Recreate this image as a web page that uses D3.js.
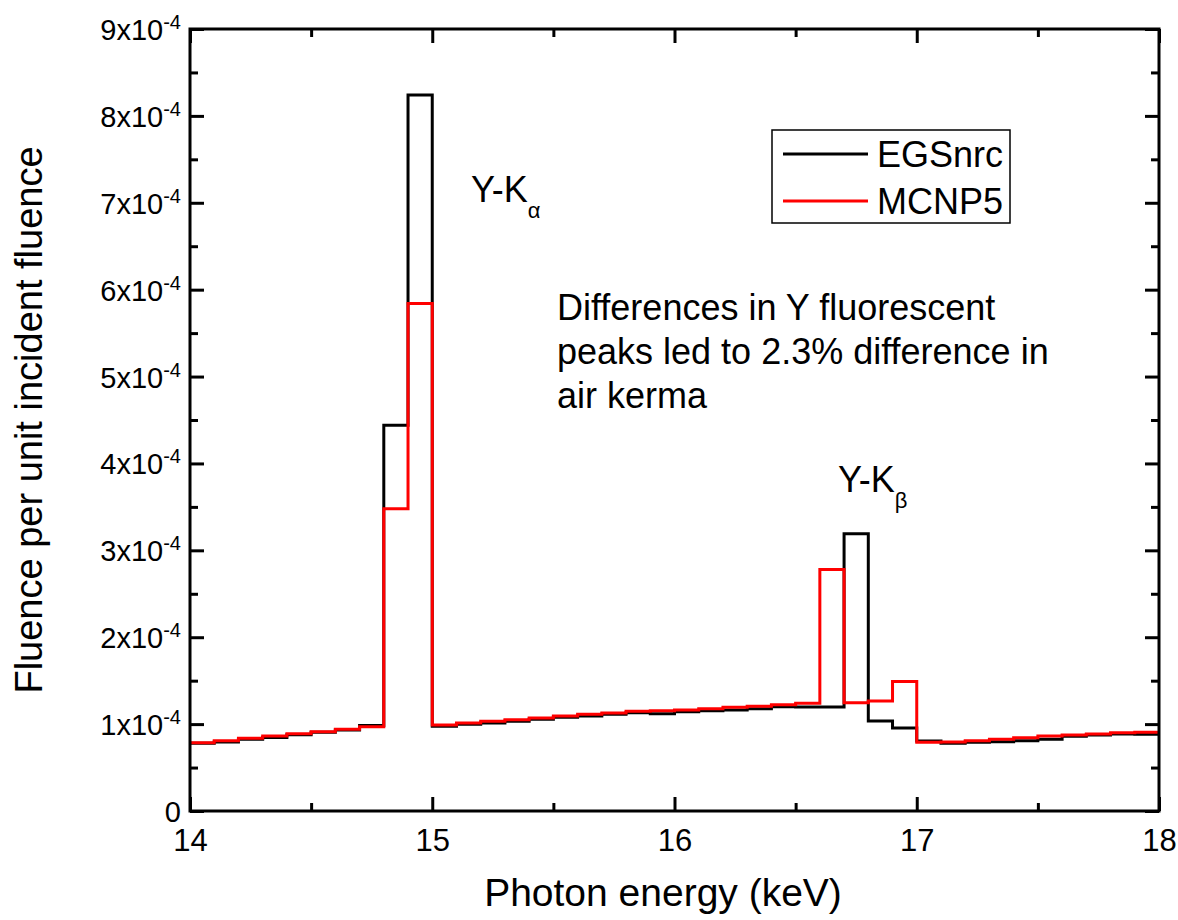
<!DOCTYPE html>
<html>
<head>
<meta charset="utf-8">
<script src="https://cdn.jsdelivr.net/npm/d3@7"></script>
<style>
  body { margin: 0; background: #fff; }
  svg { font-family: Arial, "Liberation Sans", sans-serif; }
</style>
</head>
<body>
<div id="chart"></div>
<script>
// bin start energies (keV), bin width 0.1 keV
const energy = [14.0, 14.1, 14.2, 14.3, 14.4, 14.5, 14.6, 14.7, 14.8, 14.9,
                15.0, 15.1, 15.2, 15.3, 15.4, 15.5, 15.6, 15.7, 15.8, 15.9,
                16.0, 16.1, 16.2, 16.3, 16.4, 16.5, 16.6, 16.7, 16.8, 16.9,
                17.0, 17.1, 17.2, 17.3, 17.4, 17.5, 17.6, 17.7, 17.8, 17.9];
const energyEnd = 18.0;
// fluence per unit incident fluence, in units of 1e-4
const egsnrc = [0.780, 0.795, 0.825, 0.845, 0.878, 0.905, 0.932, 0.985, 4.44, 8.24,
                0.975, 0.997, 1.013, 1.032, 1.055, 1.078, 1.093, 1.113, 1.130, 1.120,
                1.143, 1.154, 1.162, 1.177, 1.200, 1.197, 1.197, 3.19, 1.036, 0.955,
                0.805, 0.780, 0.790, 0.797, 0.809, 0.825, 0.860, 0.875, 0.886, 0.883];
const mcnp5 = [0.786, 0.809, 0.837, 0.863, 0.890, 0.913, 0.940, 0.970, 3.48, 5.84,
               0.990, 1.013, 1.032, 1.051, 1.070, 1.093, 1.113, 1.128, 1.147, 1.154,
               1.162, 1.177, 1.193, 1.205, 1.223, 1.239, 2.78, 1.246, 1.265, 1.49,
               0.790, 0.794, 0.809, 0.825, 0.844, 0.863, 0.875, 0.886, 0.901, 0.905];
const xTicks = [14, 15, 16, 17, 18];
const xMinor = [14.5, 15.5, 16.5, 17.5];
const yTicks = [0, 1, 2, 3, 4, 5, 6, 7, 8, 9];
const yMinor = [0.5, 1.5, 2.5, 3.5, 4.5, 5.5, 6.5, 7.5, 8.5];

const width = 1178, height = 920;
const m = { left: 190, right: 1159, top: 29, bottom: 811 };
const font = "Arial, 'Liberation Sans', sans-serif";

const svg = d3.select("#chart").append("svg")
    .attr("width", width)
    .attr("height", height);

const x = d3.scaleLinear().domain([14, 18]).range([m.left, m.right]);
const y = d3.scaleLinear().domain([0, 9]).range([m.bottom, m.top]);

// axes, ticks pointing inward
function styleAxis(g) {
    g.select(".domain").remove();
    g.selectAll(".tick line").attr("stroke", "#000").attr("stroke-width", 3);
}
svg.append("g")
    .attr("transform", `translate(0,${m.bottom})`)
    .call(d3.axisBottom(x).tickValues(xTicks).tickSize(-14).tickPadding(18).tickFormat(d3.format("d")))
    .call(styleAxis)
    .call(g => g.selectAll(".tick text").attr("font-size", 31).attr("fill", "#000")
        .attr("font-family", font));
svg.append("g")
    .attr("transform", `translate(0,${m.bottom})`)
    .call(d3.axisBottom(x).tickValues(xMinor).tickSize(-8).tickFormat(""))
    .call(styleAxis);
svg.append("g")
    .attr("transform", `translate(0,${m.top})`)
    .call(d3.axisTop(x).tickValues(xTicks).tickSize(-14).tickFormat(""))
    .call(styleAxis);
svg.append("g")
    .attr("transform", `translate(0,${m.top})`)
    .call(d3.axisTop(x).tickValues(xMinor).tickSize(-8).tickFormat(""))
    .call(styleAxis);

svg.append("g")
    .attr("transform", `translate(${m.left},0)`)
    .call(d3.axisLeft(y).tickValues(yTicks).tickSize(-14).tickFormat(""))
    .call(styleAxis)
    .call(g => g.selectAll(".tick").each(function (d) {
        const t = d3.select(this).append("text")
            .attr("x", -9).attr("dy", "0.36em")
            .attr("text-anchor", "end")
            .attr("font-size", 29)
            .attr("font-family", font)
            .attr("fill", "#000");
        if (d === 0) { t.text("0"); return; }
        t.append("tspan").text(`${d}x10`);
        t.append("tspan").attr("dy", "-0.55em").attr("font-size", 20).text("-4");
    }));
svg.append("g")
    .attr("transform", `translate(${m.left},0)`)
    .call(d3.axisLeft(y).tickValues(yMinor).tickSize(-8).tickFormat(""))
    .call(styleAxis);
svg.append("g")
    .attr("transform", `translate(${m.right},0)`)
    .call(d3.axisRight(y).tickValues(yTicks).tickSize(-14).tickFormat(""))
    .call(styleAxis);
svg.append("g")
    .attr("transform", `translate(${m.right},0)`)
    .call(d3.axisRight(y).tickValues(yMinor).tickSize(-8).tickFormat(""))
    .call(styleAxis);

// data step lines
const line = d3.line()
    .x(d => x(d[0]))
    .y(d => y(d[1]))
    .curve(d3.curveStepAfter);
function steps(vals) {
    const pts = energy.map((e, i) => [e, vals[i]]);
    pts.push([energyEnd, vals[vals.length - 1]]);
    return pts;
}
svg.append("path")
    .attr("d", line(steps(egsnrc)))
    .attr("fill", "none")
    .attr("stroke", "#000")
    .attr("stroke-width", 3);
svg.append("path")
    .attr("d", line(steps(mcnp5)))
    .attr("fill", "none")
    .attr("stroke", "#ff0000")
    .attr("stroke-width", 3);

// frame
svg.append("rect")
    .attr("x", m.left).attr("y", m.top)
    .attr("width", m.right - m.left).attr("height", m.bottom - m.top)
    .attr("fill", "none").attr("stroke", "#000").attr("stroke-width", 3);

// axis titles
svg.append("text")
    .attr("x", 663).attr("y", 906)
    .attr("text-anchor", "middle").attr("font-size", 39)
    .text("Photon energy (keV)");
svg.append("text")
    .attr("transform", "translate(42,420) rotate(-90)")
    .attr("text-anchor", "middle").attr("font-size", 38)
    .text("Fluence per unit incident fluence");

// legend
const legend = svg.append("g");
legend.append("rect")
    .attr("x", 772).attr("y", 130).attr("width", 238).attr("height", 93)
    .attr("fill", "#fff").attr("stroke", "#000").attr("stroke-width", 1.5);
[["EGSnrc", "#000", 154], ["MCNP5", "#ff0000", 201]].forEach(([name, col, ly]) => {
    legend.append("line")
        .attr("x1", 783).attr("x2", 868).attr("y1", ly).attr("y2", ly)
        .attr("stroke", col).attr("stroke-width", 3);
    legend.append("text")
        .attr("x", 877).attr("y", ly + 13).attr("font-size", 36)
        .text(name);
});

// annotations
function peakLabel(px, py, sub) {
    const t = svg.append("text").attr("x", px).attr("y", py).attr("font-size", 36);
    t.append("tspan").text("Y-K");
    t.append("tspan").attr("dy", 16).attr("font-size", 22).text(sub);
}
peakLabel(471, 202, "\u03b1");
peakLabel(838, 492, "\u03b2");

const note = ["Differences in Y fluorescent", "peaks led to 2.3% difference in", "air kerma"];
svg.append("g").selectAll("text")
    .data(note)
    .enter()
    .append("text")
    .attr("x", 557)
    .attr("y", (_, i) => 320 + i * 44)
    .attr("font-size", 36)
    .text(d => d);
</script>
</body>
</html>
